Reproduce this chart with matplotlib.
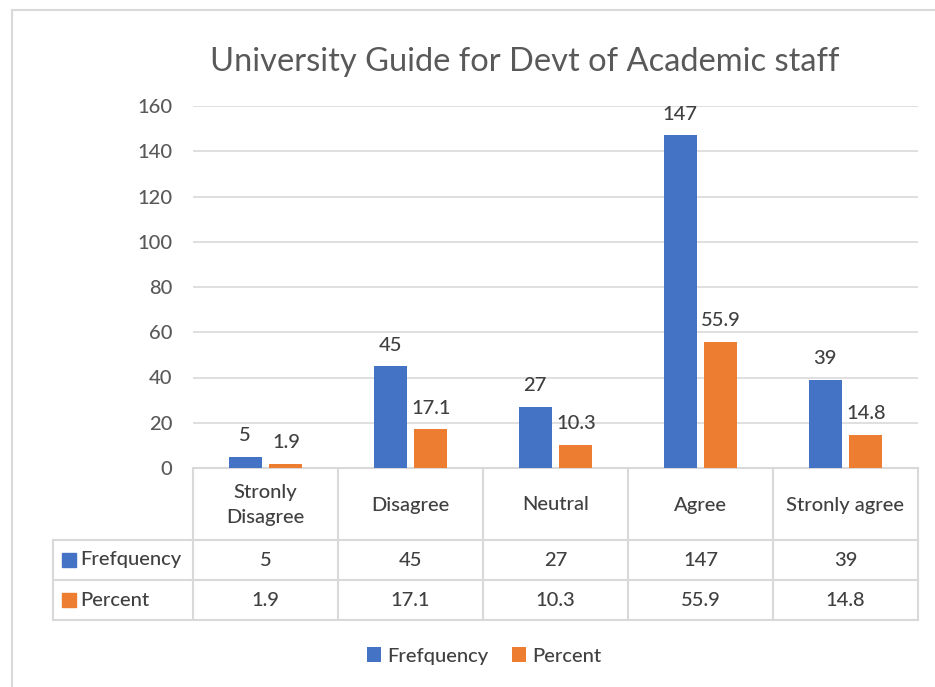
import matplotlib.pyplot as plt
from matplotlib.patches import Rectangle

categories = ["Stronly\nDisagree", "Disagree", "Neutral", "Agree", "Stronly agree"]
frequency = [5, 45, 27, 147, 39]
percent = [1.9, 17.1, 10.3, 55.9, 14.8]
series_names = ["Frefquency", "Percent"]
yticks = [0, 20, 40, 60, 80, 100, 120, 140, 160]

blue = "#4472C4"
orange = "#ED7D31"
grid = "#d9d9d9"
txt = "#404040"
fs = 14.5

plt.rcParams['font.family'] = ['Lato', 'DejaVu Sans']
plt.rcParams['font.weight'] = 'medium'

W, H = 935, 687
fig = plt.figure(figsize=(W / 100, H / 100), dpi=100)

# pixel overlay for border and data table
pix = fig.add_axes([0, 0, 1, 1])
pix.set_xlim(0, W)
pix.set_ylim(H, 0)
pix.axis('off')

# chart border
pix.plot([12, W], [10, 10], color=grid, lw=1.5)
pix.plot([12, 12], [10, H], color=grid, lw=1.5)

# main plot area
x0, x1, ytop, ybot = 193, 918, 106, 468
ax = fig.add_axes([x0 / W, 1 - ybot / H, (x1 - x0) / W, (ybot - ytop) / H])
ax.set_xlim(-0.5, len(categories) - 0.5)
ax.set_ylim(0, 160)
ax.set_yticks(yticks)
ax.set_xticks([])
for s in ax.spines.values():
    s.set_visible(False)
ax.grid(axis='y', color=grid, lw=1.2)
ax.set_axisbelow(True)
ax.tick_params(axis='y', length=0, pad=15, labelsize=fs, labelcolor="#595959")
ax.patch.set_alpha(0)

xs = list(range(len(categories)))
w = 0.228
off = 0.141
b1 = ax.bar([x - off for x in xs], frequency, w, color=blue, label=series_names[0])
b2 = ax.bar([x + off for x in xs], percent, w, color=orange, label=series_names[1])
for bars, vals in ((b1, frequency), (b2, percent)):
    for r, v in zip(bars, vals):
        ax.annotate(f"{v:g}", (r.get_x() + r.get_width() / 2, r.get_height()),
                    xytext=(0, 9), textcoords='offset points', ha='center', va='bottom',
                    fontsize=fs, color=txt)

pix.text(525, 62, "University Guide for Devt of Academic staff", fontsize=23.5,
         color="#595959", ha='center', va='center', fontweight='normal')

# data table
colw = (x1 - x0) / len(categories)
r0, r1, r2, r3 = 468, 540, 580, 620
tl = dict(color=grid, lw=1.5)
pix.plot([x0, x1], [r0, r0], **tl)
pix.plot([53, x1], [r1, r1], **tl)
pix.plot([53, x1], [r2, r2], **tl)
pix.plot([53, x1], [r3, r3], **tl)
pix.plot([53, 53], [r1, r3], **tl)
for i in range(len(categories) + 1):
    pix.plot([x0 + i * colw] * 2, [r0, r3], **tl)

for i, c in enumerate(categories):
    cx = x0 + (i + 0.5) * colw
    pix.text(cx, (r0 + r1) / 2 + 1, c, ha='center', va='center', fontsize=fs,
             color=txt, linespacing=1.6)
    pix.text(cx, (r1 + r2) / 2, f"{frequency[i]:g}", ha='center', va='center',
             fontsize=fs, color=txt)
    pix.text(cx, (r2 + r3) / 2, f"{percent[i]:g}", ha='center', va='center',
             fontsize=fs, color=txt)

for (ya, yb), name, col in (((r1, r2), series_names[0], blue), ((r2, r3), series_names[1], orange)):
    yc = (ya + yb) / 2
    pix.add_patch(Rectangle((62, yc - 7), 14, 14, color=col))
    pix.text(80, yc, name, ha='left', va='center', fontsize=fs, color=txt)

fig.legend(handles=[b1, b2], loc='center', bbox_to_anchor=(484 / W, 1 - 656 / H), ncol=2,
           frameon=False, fontsize=fs, labelcolor=txt, handlelength=0.7, handleheight=0.7,
           handletextpad=0.3, columnspacing=1.2)

fig.savefig("out.png", dpi=100)
